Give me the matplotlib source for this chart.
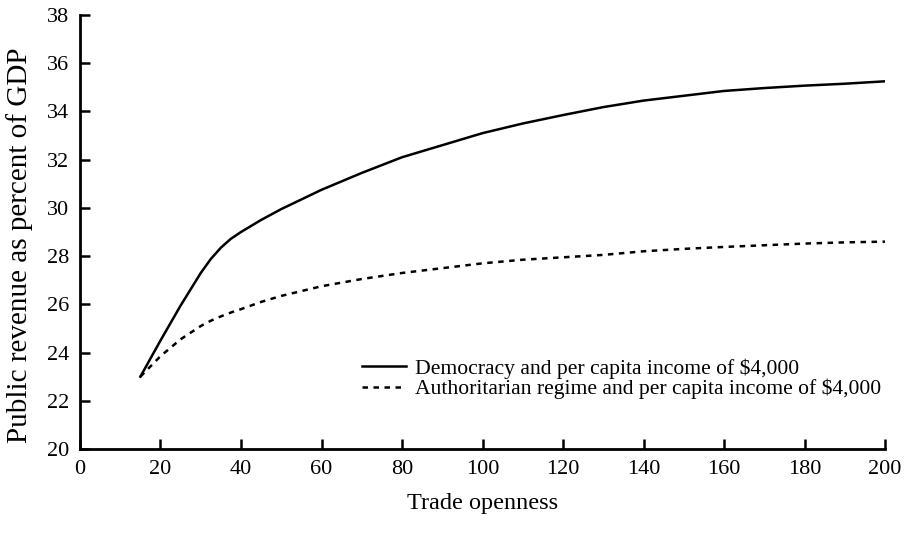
import matplotlib
matplotlib.use('Agg')
import matplotlib.pyplot as plt

# Trade openness values (x) and public revenue as % of GDP (y)
openness = [15, 20, 25, 30, 32.5, 35, 37.5, 40, 45, 50, 60, 70, 80, 90, 100,
            110, 120, 130, 140, 150, 160, 170, 180, 190, 200]
democracy = [23.0, 24.5, 25.95, 27.3, 27.88, 28.35, 28.72, 29.0, 29.5, 29.95,
             30.75, 31.45, 32.1, 32.6, 33.1, 33.5, 33.85, 34.18, 34.45, 34.65,
             34.85, 34.97, 35.07, 35.15, 35.25]
authoritarian = [23.0, 23.85, 24.55, 25.1, 25.32, 25.5, 25.66, 25.8, 26.1,
                 26.35, 26.75, 27.05, 27.3, 27.5, 27.7, 27.85, 27.95, 28.05,
                 28.2, 28.3, 28.38, 28.45, 28.52, 28.57, 28.6]

labels = ['Democracy and per capita income of $4,000',
          'Authoritarian regime and per capita income of $4,000']

plt.rcParams['font.family'] = ['Liberation Serif', 'DejaVu Serif']

fig = plt.figure(figsize=(9.08, 5.34), dpi=100)
ax = fig.add_axes([0.0881, 0.1592, 0.8866, 0.8127])

ax.plot(openness, democracy, color='black', linewidth=1.8, label=labels[0])
ax.plot(openness, authoritarian, color='black', linewidth=1.8,
        linestyle=(0, (2.2, 2.2)), label=labels[1])

ax.set_xlim(0, 200)
ax.set_ylim(20, 38)
ax.set_xticks(range(0, 201, 20))
ax.set_yticks(range(20, 39, 2))

for side in ['top', 'right']:
    ax.spines[side].set_visible(False)
for side in ['left', 'bottom']:
    ax.spines[side].set_linewidth(2)

ax.tick_params(direction='in', length=7, width=1.8, labelsize=16, pad=8)
ax.set_xlabel('Trade openness', fontsize=17.5, labelpad=10)
ax.set_ylabel('Public revenue as percent of GDP', fontsize=21)
ax.yaxis.set_label_coords(-0.058, 0.47)

ax.legend(loc='lower left', bbox_to_anchor=(0.34, 0.095), frameon=False,
          fontsize=15.6, handlelength=2.0, handletextpad=0.45,
          labelspacing=0.0, borderaxespad=0)

fig.savefig('out.png', dpi=100)
plt.close(fig)
